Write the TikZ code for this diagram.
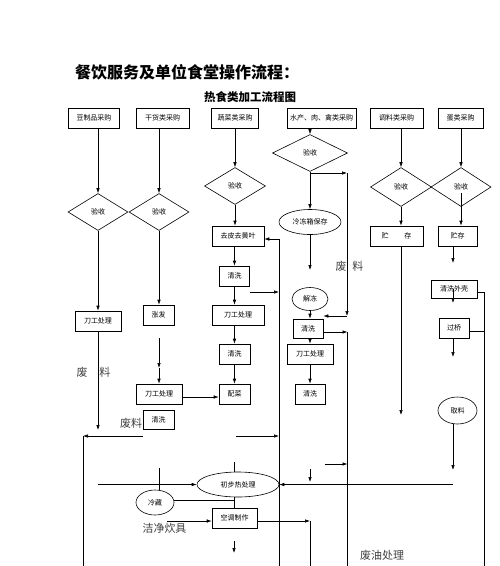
\documentclass[tikz,border=0pt]{standalone}
\usepackage{fontspec}
\newfontfamily\cjk{Noto Sans CJK SC}
\usetikzlibrary{shapes.geometric,arrows.meta}
\begin{document}
\begin{tikzpicture}[x=1pt,y=-1pt,
  every node/.style={font=\cjk\fontsize{7}{8}\selectfont, inner sep=0pt},
  sz/.style 2 args={minimum width=#1pt, minimum height=#2pt},
  box/.style={draw, rectangle, line width=0.6pt},
  dia/.style={draw, diamond, line width=0.6pt},
  ell/.style={draw, ellipse, line width=0.6pt},
  ln/.style={line width=0.6pt},
  arr/.style={ln, -{Latex[length=5pt,width=3.5pt]}},
  big/.style={font=\cjk\fontsize{11}{12}\selectfont, text=black!75},
]
\useasboundingbox (0,0) rectangle (500,566);
\fill[white] (0,0) rectangle (500,566);

% titles
\node[font=\cjk\bfseries\fontsize{16}{18}\selectfont, anchor=west] (title) at (75,72) {餐饮服务及单位食堂操作流程：};
\node[font=\cjk\bfseries\fontsize{11.5}{12}\selectfont, anchor=west] (sub) at (204,97) {热食类加工流程图};

% top row
\node[box,sz={51}{20}] (b1) at (94,118) {豆制品采购};
\node[box,sz={53}{20}] (b2) at (162.5,118) {干货类采购};
\node[box,sz={47}{20}] (b3) at (235,118) {蔬菜类采购};
\node[box,sz={69}{20}] (b4) at (321.5,118) {水产、肉、禽类采购};
\node[box,sz={53}{20}] (b5) at (396.5,118) {调料类采购};
\node[box,sz={45}{20}] (b6) at (460.5,118) {蛋类采购};

% diamonds
\node[dia,sz={60}{37}] (d1) at (98,212) {验收};
\node[dia,sz={60}{37}] (d2) at (159,212) {验收};
\node[dia,sz={61}{37}] (d3) at (235,186) {验收};
\node[dia,sz={75}{37}] (d4) at (310,153) {验收};
\node[dia,sz={61}{39}] (d5) at (401,187) {验收};
\node[dia,sz={60}{39}] (d6) at (461,187) {验收};

% column 1
\node[box,sz={46}{20}] (k1) at (98,321) {刀工处理};
% column 2
\node[box,sz={31}{20}] (z1) at (158.5,315) {涨发};
\node[box,sz={46}{20}] (k2) at (159,394) {刀工处理};
\node[box,sz={31}{19}] (q2) at (158.5,419.5) {清洗};
% column 3
\node[box,sz={52}{20}] (p1) at (238,236) {去皮去黄叶};
\node[box,sz={30}{20}] (q3) at (234.5,276) {清洗};
\node[box,sz={52}{20}] (k3) at (238,315) {刀工处理};
\node[box,sz={31}{20}] (q4) at (234.5,354) {清洗};
\node[box,sz={31}{20}] (pc) at (234.5,394) {配菜};
% column 4
\node[ell,sz={62}{25}] (e1) at (310,222) {冷冻箱保存};
\node[ell,sz={36}{23}] (e2) at (310,299) {解冻};
\node[box,sz={30}{19}] (q5) at (308,328.5) {清洗};
\node[box,sz={46}{20}] (k5) at (310,354) {刀工处理};
\node[box,sz={30}{20}] (q6) at (310,394) {清洗};
% columns 5,6
\node[box,sz={53}{20}] (c1) at (396.5,236) {贮\hspace{16pt}存};
\node[box,sz={39}{20}] (c2) at (457.5,236) {贮存\hspace{6pt}};
\node[box,sz={46}{18}] (w1) at (454,289) {清洗外壳};
\node[box,sz={30}{20}] (g1) at (454,328) {过桥};
\node[ell,sz={39}{27}] (e3) at (457.5,410.5) {取料};
% bottom
\node[ell,sz={82}{25}] (e4) at (238,484.5) {初步热处理};
\node[ell,sz={38}{25}] (e5) at (155,502.5) {冷藏};
\node[box,sz={45}{20}] (kt) at (234.5,518) {空调制作};

% labels
\node[big] (t1) at (93.5,372) {废\hspace{12pt}料};
\node[big] (t2) at (131,423) {废料};
\node[big] (t3) at (349.5,266) {废\hspace{6pt}料};
\node[big] (t4) at (164.5,528) {洁净炊具};
\node[big] (t5) at (382,555) {废油处理};

% ---- connectors ----
% column 1
\draw[arr] (b1.south -| d1.north) -- (d1.north);
\draw[arr] (d1.south) -- (k1.north);
\coordinate (f1) at (98,430);
\draw[arr] (k1.south) -- (f1);
% column 2
\draw[arr] (b2.south -| d2.north) -- (d2.north);
\draw[arr] (d2.south) -- (d2.south |- z1.north);
\coordinate (g1s) at (159,338);
\coordinate (g1m) at (159,368);
\draw[arr] (g1s) -- (g1m);
\draw[arr] (g1m) -- (k2.north);
\draw[arr] ([yshift=-3pt]k2.east) -- ([yshift=-3pt]pc.west);
% column 3
\draw[arr] (b3.south) -- (d3.north);
\draw[arr] (d3.south) -- (d3.south |- p1.north);
\draw[arr] (q3.north |- p1.south) -- (q3.north);
\draw[arr] (q3.south) -- (q3.south |- k3.north);
\draw[arr] (q4.north |- k3.south) -- (q4.north);
\draw[arr] (q4.south) -- (pc.north);
\coordinate (r1t) at (279,239);
\coordinate (r1b) at (279,566);
\draw[ln] (r1b) -- (r1t);
\draw[arr] (r1t) -- (r1t -| p1.east);
\coordinate (a1) at (250,292);
\draw[arr] (a1) -- (a1 -| r1t);
\coordinate (a2) at (236,436);
\draw[arr] (a2) -- (a2 -| r1t);
% column 4
\draw[arr] (b4.south -| d4.north) -- (d4.north);
\draw[arr] (d4.south) -- (e1.north);
\coordinate (w1t) at (347,173);
\coordinate (w1b) at (347,316);
\draw[arr] (d4.south |- w1t) -- (w1t);
\draw[arr] (w1t) -- (w1b);
\draw[arr] (w1b) -- (w1b -| q5.east);
\coordinate (e1a) at (310,270);
\draw[arr] (e1.south) -- (e1a);
\draw[arr] (e2.south) -- (e2.south |- q5.north);
\draw[arr] (q5.south -| k5.north) -- (k5.north);
\draw[arr] (k5.south) -- (q6.north);
\coordinate (w2t) at (347.5,332);
\coordinate (w2b) at (347.5,566);
\draw[arr] (w2t -| q5.east) -- (w2t);
\draw[ln] (w2t) -- (w2b);
\coordinate (a3) at (325,464);
\draw[arr] (a3) -- (a3 -| w2t);
% columns 5,6
\draw[arr] (b5.south -| d5.north) -- (d5.north);
\draw[arr] (d5.south) -- (d5.south |- c1.north);
\coordinate (s1) at (401,415);
\draw[arr] (c1.south -| s1) -- (s1);
\draw[arr] (b6.south -| d6.north) -- (d6.north);
\draw[arr] ([yshift=-6pt]d6.center) -- (d6.center |- c2.north);
\coordinate (s2) at (453,263);
\draw[arr] (c2.south -| s2) -- (s2);
\coordinate (s3) at (453,303);
\draw[arr] (w1.center -| s3) -- (s3);
\coordinate (s4) at (453,357);
\draw[arr] (g1.south -| s4) -- (s4);
\coordinate (rt) at (484,292);
\coordinate (rb) at (484,566);
\draw[ln] (rt -| w1.east) -- (rt) -- (rb);
\draw[ln] ([yshift=-3pt]g1.east) -- ([yshift=-3pt]g1.east -| rt);
\coordinate (s5) at (453,470);
\draw[arr] (e3.south -| s5) -- (s5);
\coordinate (s6) at (453,484.5);
\draw[arr] (s6) -- (e4.east);
\coordinate (s7) at (310,469);
\coordinate (s7b) at (310,482);
\draw[arr] (s7) -- (s7b);
% left / bottom
\coordinate (l1) at (143,436);
\coordinate (l2) at (83,436);
\coordinate (l3) at (83,566);
\draw[arr] (l1) -- (l2);
\draw[ln] (l2) -- (l3);
\coordinate (l4) at (98,484.5);
\draw[arr] (l4) -- (e4.west);
\coordinate (l5) at (159,468);
\draw[ln] (l5) -- (l5 |- e5.north);
\coordinate (l6) at (234,462);
\draw[ln] (l6) -- (l6 |- e4.north);
\draw[ln] ([yshift=2pt]e5.east) -- ([yshift=2pt]e5.east -| l6);
\draw[ln] (l6 |- e4.south) -- (l6 |- kt.north);
\coordinate (l7) at (167,521);
\draw[arr] (l7) -- (l7 -| kt.west);
\coordinate (l8) at (310,521);
\coordinate (l9) at (310,566);
\draw[arr] (l8 -| kt.east) -- (l8);
\draw[ln] (l8) -- (l9);
\coordinate (l10) at (234,541);
\coordinate (l11) at (234,553);
\draw[arr] (l10) -- (l11);
\end{tikzpicture}
\end{document}
